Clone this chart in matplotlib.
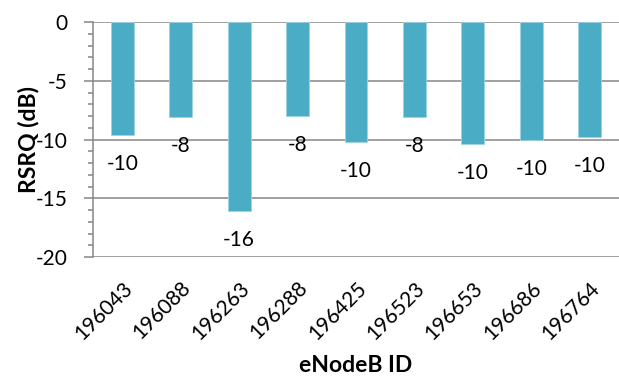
import matplotlib
matplotlib.use('Agg')
import matplotlib.pyplot as plt
from matplotlib.pyplot import MultipleLocator
import numpy as np

plt.rcParams['font.family'] = ['Lato', 'DejaVu Sans']
plt.rcParams['axes.unicode_minus'] = False

基站 = ['196043', '196088', '196263', '196288', '196425', '196523', '196653', '196686', '196764']
rsrq = [-9.6, -8.1, -16.1, -8.0, -10.2, -8.1, -10.4, -10.0, -9.8]

灰色 = '#868686'
柱色 = '#4BACC6'

fig = plt.figure(figsize=(6.19, 3.76), dpi=100)
ax = fig.add_axes([93/619, 1-257/376, 526/619, 235/376])

x = np.arange(len(基站))
ax.bar(x, rsrq, width=0.39, color=柱色, edgecolor='#9ed3e2', linewidth=0.6, zorder=3)

for xi, v in zip(x, rsrq):
    ax.annotate(f'{v:.0f}', (xi, v), xytext=(0, -21), textcoords='offset points',
                ha='center', va='center', fontsize=15, color='black')

ax.set_xlim(-0.5, len(基站) - 0.5)
ax.set_ylim(-20, 0)
ax.yaxis.set_major_locator(MultipleLocator(5))
ax.yaxis.set_minor_locator(MultipleLocator(1))
ax.grid(axis='y', color=灰色, linewidth=1.1, zorder=0)
ax.set_axisbelow(True)

for s in ['top', 'right', 'bottom']:
    ax.spines[s].set_visible(False)
ax.spines['left'].set_color(灰色)
ax.spines['left'].set_linewidth(1.1)

ax.tick_params(axis='y', which='major', length=6.5, width=1.1, color=灰色, labelsize=15, pad=12)
ax.tick_params(axis='y', which='minor', length=3.6, width=1.1, color=灰色)
ax.set_yticks([0, -5, -10, -15, -20])
ax.set_yticklabels(['0', '-5', '-10', '-15', '-20'])

ax.set_xticks(x)
ax.set_xticklabels(基站, rotation=45, ha='right', rotation_mode='anchor', fontsize=15)
ax.tick_params(axis='x', length=0, pad=15)

ax.set_ylabel('RSRQ (dB)', fontsize=16.5, fontweight='bold', va='center')
ax.yaxis.set_label_coords(-0.122, 0.5)
ax.set_xlabel('eNodeB ID', fontsize=16.5, fontweight='bold', va='center')
ax.xaxis.set_label_coords(0.5, -0.46)

fig.savefig('out.png', dpi=100)
